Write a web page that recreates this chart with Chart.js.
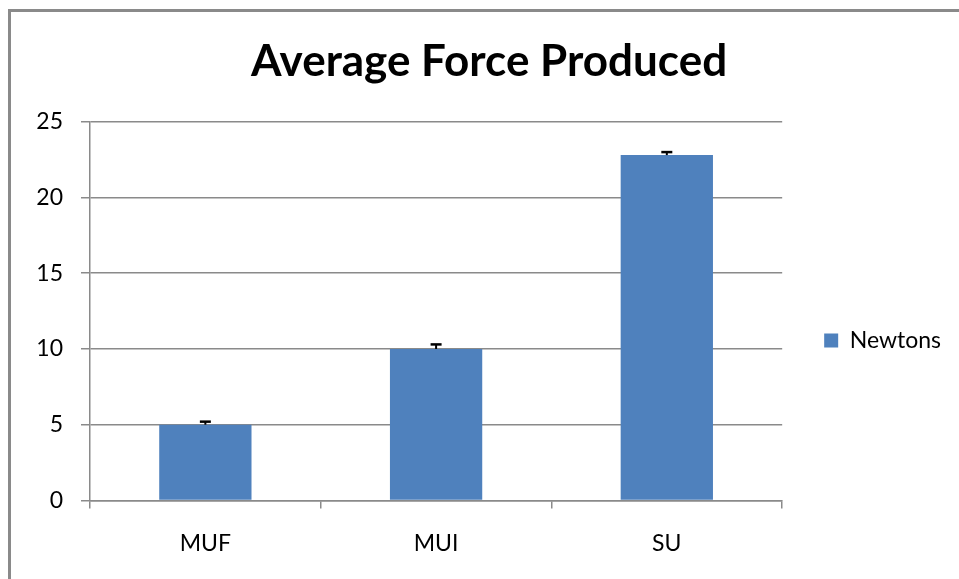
<!DOCTYPE html>
<html>
<head>
<meta charset="utf-8">
<script src="https://cdn.jsdelivr.net/npm/chart.js@4.4.1/dist/chart.umd.min.js"></script>
<style>
  html, body { margin: 0; padding: 0; background: #fff; }
  #wrap { position: relative; width: 959px; height: 579px; overflow: hidden; }
  #frame { position: absolute; left: 8px; top: 9px; width: 1200px; height: 900px; border-left: 3px solid #8a8a8a; border-top: 3px solid #8a8a8a; box-sizing: border-box; }
  canvas { position: absolute; left: 0; top: 0; }
</style>
</head>
<body>
<div id="wrap">
  <div id="frame"></div>
  <canvas id="c" width="959" height="579"></canvas>
</div>
<script>
const categories = ["MUF", "MUI", "SU"];
const newtons = [5.0, 10.0, 22.8];
const newtonsError = [0.2, 0.3, 0.2];
const yTicks = [0, 5, 10, 15, 20, 25];

const FONT = "Lato, 'Liberation Sans', sans-serif";

const errorBars = {
  id: 'errorBars',
  afterDatasetsDraw(chart) {
    const ctx = chart.ctx;
    const meta = chart.getDatasetMeta(0);
    const y = chart.scales.y;
    ctx.save();
    ctx.strokeStyle = '#000';
    meta.data.forEach((bar, i) => {
      const x = bar.x;
      const top = y.getPixelForValue(newtons[i] + newtonsError[i]);
      const base = y.getPixelForValue(newtons[i]);
      ctx.lineWidth = 2;
      ctx.beginPath();
      ctx.moveTo(x, base);
      ctx.lineTo(x, top);
      ctx.stroke();
      ctx.lineWidth = 2.5;
      ctx.beginPath();
      ctx.moveTo(x - 5.5, top);
      ctx.lineTo(x + 5.5, top);
      ctx.stroke();
    });
    ctx.restore();
  }
};

new Chart(document.getElementById('c'), {
  type: 'bar',
  data: {
    labels: categories,
    datasets: [{
      label: 'Newtons',
      data: newtons,
      backgroundColor: '#4F81BD',
      borderWidth: 0,
      categoryPercentage: 1.0,
      barPercentage: 0.4
    }]
  },
  options: {
    responsive: false,
    animation: false,
    devicePixelRatio: 1,
    layout: { padding: { left: 27, right: 8, top: 0, bottom: 0 } },
    plugins: {
      title: {
        display: true,
        text: 'Average Force Produced',
        color: '#000',
        font: { family: FONT, size: 44, weight: 'bold' },
        padding: { top: 35, bottom: 34 }
      },
      legend: {
        display: true,
        position: 'right',
        title: {
          display: true,
          text: ' ',
          font: { family: FONT, size: 10 },
          padding: { top: 45, bottom: 45 }
        },
        labels: {
          boxWidth: 14,
          boxHeight: 14,
          color: '#000',
          font: { family: FONT, size: 23 },
          padding: 42
        }
      },
      tooltip: { enabled: false }
    },
    scales: {
      x: {
        offset: true,
        grid: {
          offset: true,
          drawOnChartArea: false,
          drawTicks: true,
          tickLength: 8,
          color: '#8a8a8a',
          lineWidth: 1.5
        },
        border: { display: true, color: '#8a8a8a', width: 1.5 },
        ticks: {
          color: '#000',
          font: { family: FONT, size: 23 },
          padding: 21.5
        }
      },
      y: {
        min: 0,
        max: 25,
        afterBuildTicks(scale) { scale.ticks = yTicks.map(v => ({ value: v })); },
        afterFit(scale) { scale.width = 63; },
        grid: {
          color: '#8a8a8a',
          lineWidth: 1.5,
          tickLength: 9
        },
        border: { display: true, color: '#8a8a8a', width: 1.5 },
        ticks: {
          color: '#000',
          font: { family: FONT, size: 23 },
          padding: 18
        }
      }
    }
  },
  plugins: [errorBars]
});
</script>
</body>
</html>
